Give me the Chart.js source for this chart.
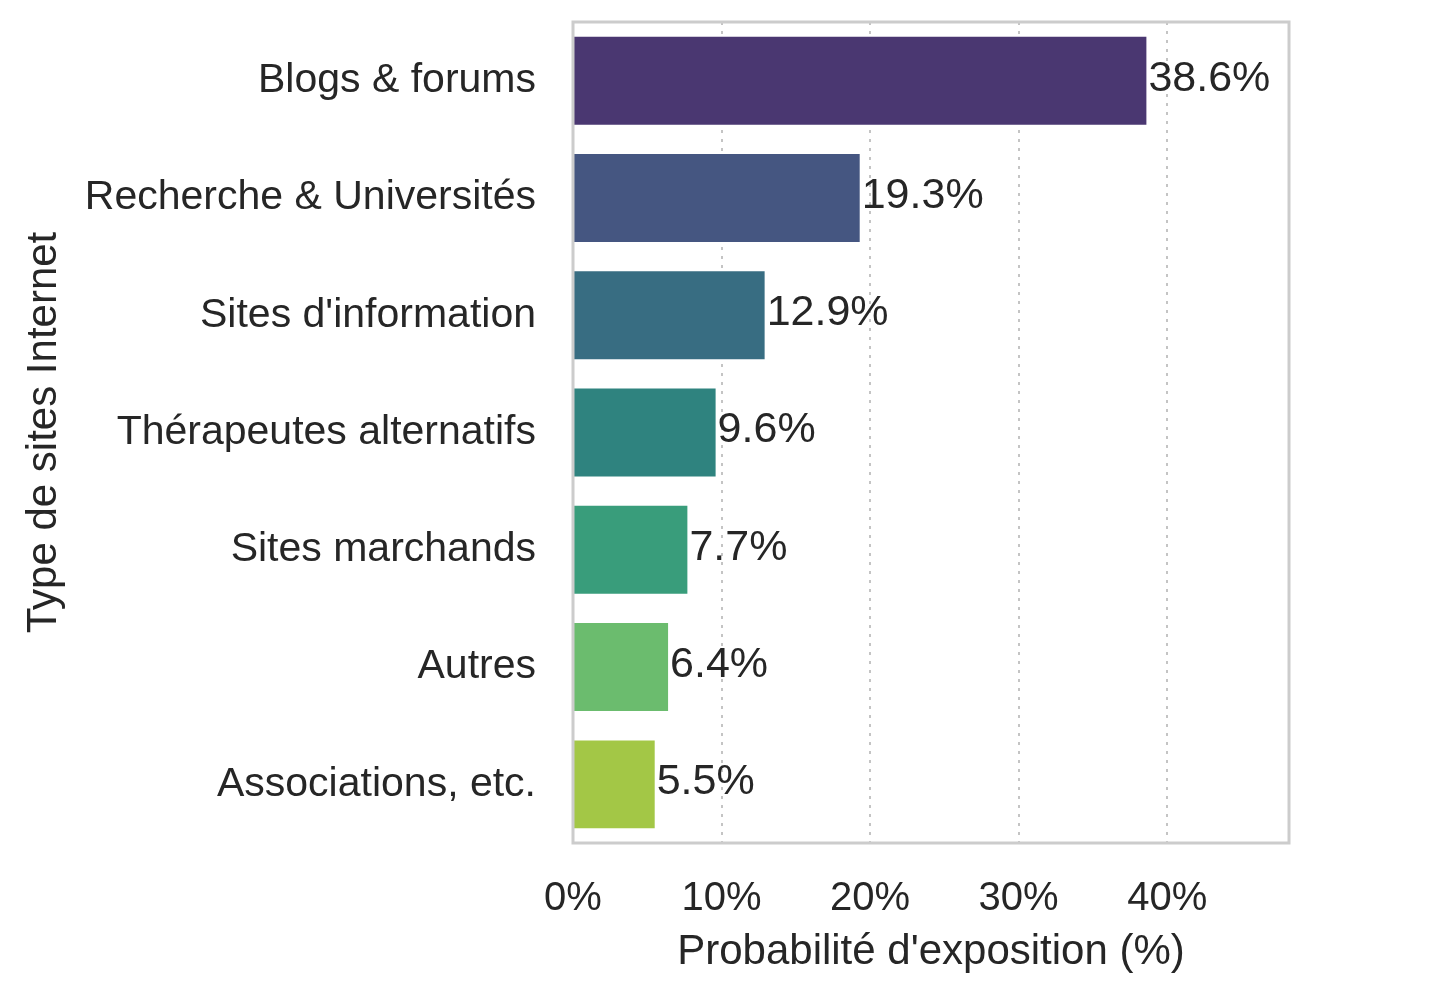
<!DOCTYPE html>
<html>
<head>
<meta charset="utf-8">
<script src="https://cdn.jsdelivr.net/npm/chart.js@4/dist/chart.umd.min.js"></script>
<style>
  html, body { margin: 0; padding: 0; background: #ffffff; }
  #wrap { width: 1434px; height: 996px; }
</style>
</head>
<body>
<div id="wrap"><canvas id="sitesChart" width="1434" height="996"></canvas></div>
<script>
// Catégories et valeurs
const categories = ['Blogs & forums', 'Recherche & Universités', "Sites d'information",
  'Thérapeutes alternatifs', 'Sites marchands', 'Autres', 'Associations, etc.'];
const values = [38.6, 19.3, 12.9, 9.6, 7.7, 6.4, 5.5];
const xTicks = [0, 10, 20, 30, 40];

// viridis désaturé (style seaborn)
const barColors = ['#4a3771', '#455681', '#386d82', '#2f837f', '#399d7b', '#6bbc6e', '#a3c746'];

const textColor = '#262626';
const fontFamily = '"Liberation Sans", Arial, sans-serif';

// Étiquettes de valeur au bout des barres + cadre gris
const valueLabels = {
  id: 'valueLabels',
  afterDatasetsDraw(chart) {
    const ctx = chart.ctx;
    const meta = chart.getDatasetMeta(0);
    ctx.save();
    ctx.font = '43px ' + fontFamily;
    ctx.fillStyle = textColor;
    ctx.textAlign = 'left';
    ctx.textBaseline = 'middle';
    meta.data.forEach((bar, i) => {
      ctx.fillText(values[i].toFixed(1) + '%', bar.x + 2, bar.y - 2);
    });
    ctx.restore();
  },
  afterDraw(chart) {
    const a = chart.chartArea;
    const ctx = chart.ctx;
    ctx.save();
    ctx.strokeStyle = '#cccccc';
    ctx.lineWidth = 3;
    ctx.strokeRect(a.left, a.top, a.right - a.left, a.bottom - a.top);
    ctx.restore();
  }
};

new Chart(document.getElementById('sitesChart').getContext('2d'), {
  type: 'bar',
  data: {
    labels: categories,
    datasets: [{
      data: values,
      backgroundColor: barColors,
      borderWidth: 0,
      barPercentage: 0.75,
      categoryPercentage: 1.0
    }]
  },
  options: {
    indexAxis: 'y',
    responsive: false,
    animation: false,
    layout: { padding: { top: 22, right: 145, bottom: 0, left: 0 } },
    plugins: {
      legend: { display: false },
      tooltip: { enabled: false }
    },
    scales: {
      x: {
        min: 0,
        max: 48.2,
        afterBuildTicks(scale) {
          scale.ticks = xTicks.map(v => ({ value: v }));
        },
        afterFit(scale) {
          scale.height = 153;
          scale.paddingLeft = 0;
          scale.paddingRight = 0;
        },
        grid: { color: '#c4c4c4', lineWidth: 2, drawTicks: false },
        border: { display: false, dash: [3, 6] },
        ticks: {
          color: textColor,
          font: { family: fontFamily, size: 40 },
          padding: 32,
          callback: v => v + '%'
        },
        title: {
          display: true,
          text: "Probabilité d'exposition (%)",
          color: textColor,
          font: { family: fontFamily, size: 42 },
          padding: { top: 0, bottom: 18 }
        }
      },
      y: {
        afterFit(scale) {
          scale.width = 573;
          scale.paddingTop = 0;
          scale.paddingBottom = 0;
        },
        grid: { display: false },
        border: { display: false },
        ticks: {
          color: textColor,
          font: { family: fontFamily, size: 41 },
          padding: 29
        },
        title: {
          display: true,
          text: 'Type de sites Internet',
          color: textColor,
          font: { family: fontFamily, size: 42 },
          padding: { top: 19, bottom: 0 }
        }
      }
    }
  },
  plugins: [valueLabels]
});
</script>
</body>
</html>
